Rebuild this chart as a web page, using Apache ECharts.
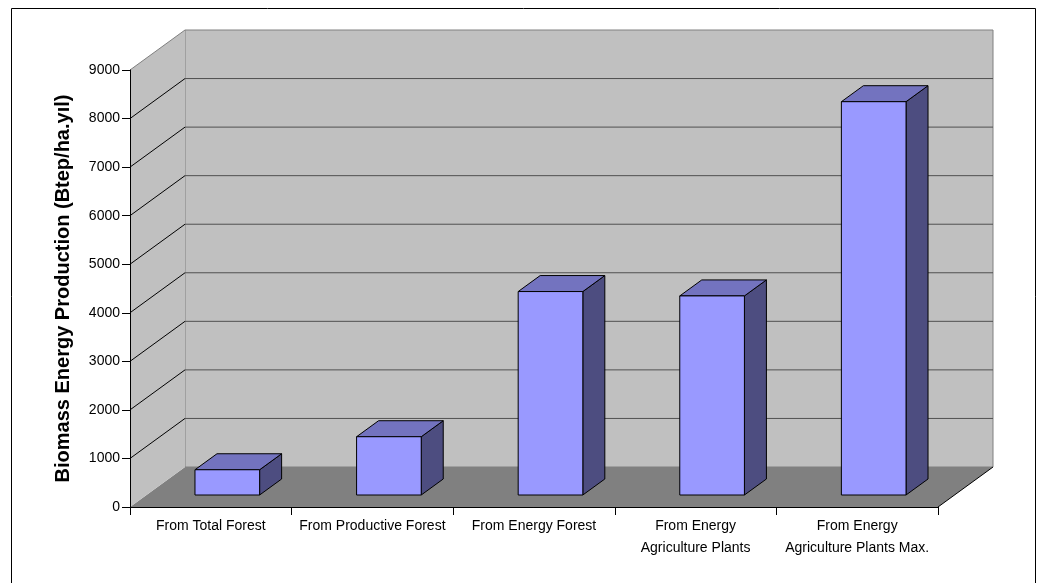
<!DOCTYPE html>
<html>
<head>
<meta charset="utf-8">
<title>Biomass Energy Production</title>
<script src="https://cdn.jsdelivr.net/npm/echarts@6/dist/echarts.min.js"></script>
<style>
  html, body { margin: 0; padding: 0; background: #ffffff; }
  #chart { width: 1042px; height: 583px; }
</style>
</head>
<body>
<div id="chart"></div>
<script>
// Categories along the front axis
const categories = [
  'From Total Forest',
  'From Productive Forest',
  'From Energy Forest',
  'From Energy\nAgriculture Plants',
  'From Energy\nAgriculture Plants Max.'
];
// Biomass energy production per source (Btep/ha.yıl)
const values = [520, 1200, 4190, 4100, 8100];
// Value axis ticks
const yTicks = [0, 1000, 2000, 3000, 4000, 5000, 6000, 7000, 8000, 9000];

// Oblique depth of the 3D box (pixels) and the slice of it taken by each bar
const DEPTH_X = 55;
const DEPTH_Y = -40;
const BAR_DEPTH_START = 0.3;
const BAR_DEPTH_SIZE = 0.4;
const BAR_WIDTH_RATIO = 0.4;

const FONT = 'Liberation Sans, Arial, sans-serif';
const yMin = yTicks[0];
const yMax = yTicks[yTicks.length - 1];
const yStep = yTicks[1] - yTicks[0];

function renderRoom(params, api) {
  const base = api.coord([0, yMin]);
  const band = api.size([1, 0])[0];
  const left = base[0] - band / 2;
  const right = left + band * categories.length;
  const yBase = base[1];
  const yTop = api.coord([0, yMax])[1];
  const dx = DEPTH_X, dy = DEPTH_Y;
  const children = [];

  // floor
  children.push({
    type: 'polygon',
    shape: { points: [[left, yBase], [right, yBase], [right + dx, yBase + dy], [left + dx, yBase + dy]] },
    style: { fill: '#808080' }
  });
  // back wall
  children.push({
    type: 'polygon',
    shape: { points: [[left + dx, yTop + dy], [right + dx, yTop + dy], [right + dx, yBase + dy], [left + dx, yBase + dy]] },
    style: { fill: '#c0c0c0', stroke: '#808080', lineWidth: 1 }
  });
  // side wall
  children.push({
    type: 'polygon',
    shape: { points: [[left, yTop], [left + dx, yTop + dy], [left + dx, yBase + dy], [left, yBase]] },
    style: { fill: '#c0c0c0' }
  });
  // side wall top edge
  children.push({
    type: 'line',
    shape: { x1: left, y1: yTop, x2: left + dx, y2: yTop + dy },
    style: { stroke: '#808080', lineWidth: 1 }
  });
  // gridlines on back and side walls
  yTicks.forEach(function (v) {
    if (v === yMin || v === yMax) return;
    const y = api.coord([0, v])[1];
    children.push({
      type: 'line',
      shape: { x1: left + dx, y1: y + dy, x2: right + dx, y2: y + dy },
      style: { stroke: '#505050', lineWidth: 1 }
    });
    children.push({
      type: 'line',
      shape: { x1: left, y1: y, x2: left + dx, y2: y + dy },
      style: { stroke: '#000000', lineWidth: 1 }
    });
  });
  // floor right edge
  children.push({
    type: 'line',
    shape: { x1: right, y1: yBase, x2: right + dx, y2: yBase + dy },
    style: { stroke: '#000000', lineWidth: 1 }
  });
  return { type: 'group', children: children };
}

function renderBar(params, api) {
  const i = api.value(0);
  const v = api.value(1);
  const base = api.coord([i, yMin]);
  const top = api.coord([i, v]);
  const bw = api.size([1, 0])[0] * BAR_WIDTH_RATIO;
  const fx = DEPTH_X * BAR_DEPTH_START, fy = DEPTH_Y * BAR_DEPTH_START;
  const dx = DEPTH_X * BAR_DEPTH_SIZE, dy = DEPTH_Y * BAR_DEPTH_SIZE;
  const x0 = base[0] - bw / 2 + fx;
  const x1 = x0 + bw;
  const yb = base[1] + fy;
  const yt = top[1] + fy;
  const edge = { stroke: '#000000', lineWidth: 1, lineJoin: 'round' };
  return {
    type: 'group',
    children: [
      {
        type: 'polygon',
        shape: { points: [[x1, yt], [x1 + dx, yt + dy], [x1 + dx, yb + dy], [x1, yb]] },
        style: Object.assign({ fill: '#4d4d80' }, edge)
      },
      {
        type: 'polygon',
        shape: { points: [[x0, yt], [x1, yt], [x1 + dx, yt + dy], [x0 + dx, yt + dy]] },
        style: Object.assign({ fill: '#7373bf' }, edge)
      },
      {
        type: 'rect',
        shape: { x: x0, y: yt, width: bw, height: yb - yt },
        style: Object.assign({ fill: '#9999ff' }, edge)
      }
    ]
  };
}

const chart = echarts.init(document.getElementById('chart'), null, { renderer: 'canvas' });
chart.setOption({
  animation: false,
  backgroundColor: '#ffffff',
  textStyle: { fontFamily: FONT },
  graphic: [{
    type: 'rect',
    left: 9, top: 6,
    shape: { x: 0.5, y: 0.5, width: 1024, height: 600 },
    style: { fill: 'none', stroke: '#000000', lineWidth: 1 },
    z: -1
  }],
  grid: { left: 130, right: 104, top: 70, bottom: 76, containLabel: false },
  xAxis: {
    type: 'category',
    data: categories,
    z: 10,
    axisLine: { show: true, lineStyle: { color: '#000000', width: 1 } },
    axisTick: { show: true, inside: false, length: 8, interval: 0, alignWithLabel: false, lineStyle: { color: '#000000' } },
    axisLabel: { interval: 0, margin: 8, color: '#000000', fontSize: 14, lineHeight: 22, fontFamily: FONT },
    splitLine: { show: false }
  },
  yAxis: {
    type: 'value',
    min: yMin, max: yMax, interval: yStep,
    z: 10,
    name: 'Biomass Energy Production (Btep/ha.yıl)',
    nameLocation: 'middle',
    nameGap: 57,
    nameTextStyle: { fontSize: 20, fontWeight: 'bold', color: '#000000', fontFamily: FONT },
    axisLine: { show: true, lineStyle: { color: '#000000', width: 1 } },
    axisTick: { show: true, inside: false, length: 8, lineStyle: { color: '#000000' } },
    axisLabel: {
      margin: 10, color: '#000000', fontSize: 14, fontFamily: FONT,
      formatter: function (v) { return String(v); }
    },
    splitLine: { show: false }
  },
  series: [
    {
      type: 'custom',
      name: 'room',
      silent: true,
      z: 1,
      clip: false,
      renderItem: renderRoom,
      data: [[0, 0]]
    },
    {
      type: 'custom',
      name: 'Biomass Energy Production',
      z: 3,
      clip: false,
      renderItem: renderBar,
      data: values.map(function (v, i) { return [i, v]; })
    }
  ]
});
</script>
</body>
</html>
